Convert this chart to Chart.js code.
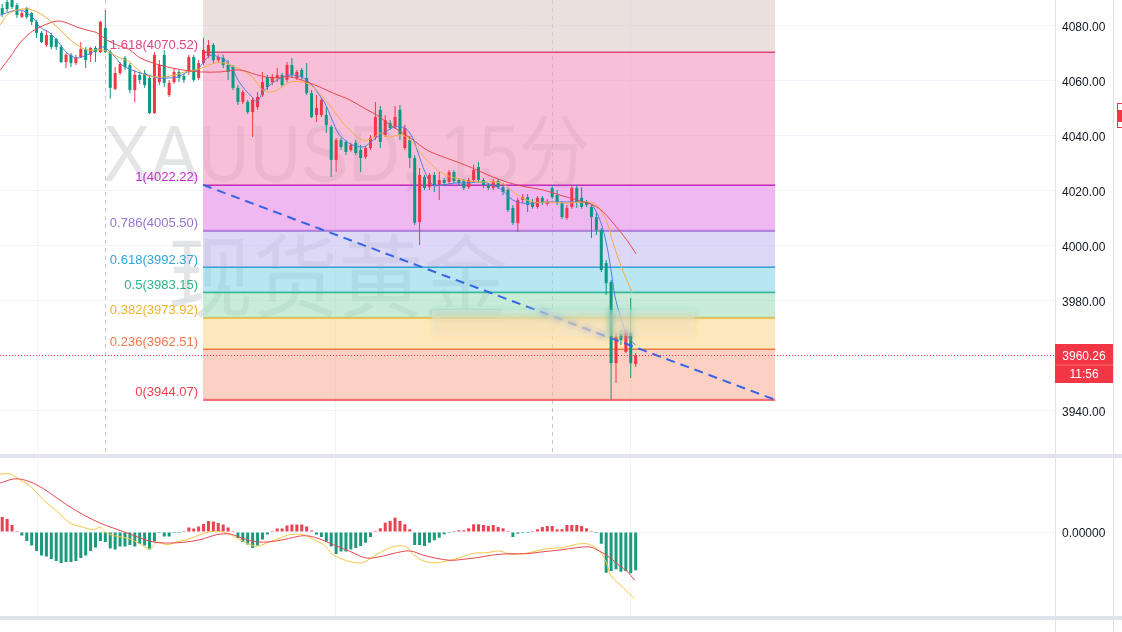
<!DOCTYPE html>
<html lang="zh">
<head>
<meta charset="utf-8">
<title>XAUUSD 15分</title>
<script src="https://cdn.jsdelivr.net/npm/chart.js@4.4.1/dist/chart.umd.min.js"></script>
<style>
  html, body { margin: 0; padding: 0; background: #ffffff; }
  #grafico { display: block; }
</style>
</head>
<body>
<canvas id="grafico" width="1122" height="632"></canvas>
<script>
// Velas de 15 minutos (índice = posição da vela no gráfico)
const opens = [4086.5, 4088.7, 4089.5, 4087.6, 4083.3, 4086.5, 4084.7, 4081.5, 4077.5, 4073.1,
  4076.7, 4075.3, 4072.4, 4066.9, 4069.5, 4066.5, 4068.7, 4071.6, 4069.5, 4072.0,
  4070.5, 4079.3, 4070.5, 4057.1, 4062.9, 4068.4, 4065.8, 4056.7, 4062.2, 4062.9,
  4061.1, 4048.4, 4059.6, 4069.5, 4054.9, 4059.6, 4063.3, 4061.8, 4063.3, 4068.7,
  4061.1, 4066.5, 4069.1, 4073.1, 4067.6, 4068.4, 4065.8, 4065.1, 4057.5, 4052.4,
  4052.4, 4048.7, 4050.5, 4054.9, 4061.5, 4059.6, 4061.1, 4062.2, 4060.4, 4065.8,
  4061.1, 4064.0, 4061.1, 4055.6, 4047.6, 4047.6, 4047.6, 4043.3, 4031.3, 4038.5,
  4037.8, 4034.9, 4037.5, 4034.9, 4032.4, 4035.6, 4039.6, 4049.5, 4040.4, 4044.7,
  4043.3, 4049.5, 4035.6, 4038.5, 4032.0, 4008.7, 4025.1, 4021.4, 4025.8, 4022.2,
  4024.0, 4023.3, 4026.9, 4024.0, 4023.6, 4021.4, 4024.0, 4028.7, 4024.0, 4022.2,
  4021.1, 4023.6, 4021.4, 4020.4, 4013.8, 4008.4, 4016.7, 4017.8, 4016.0, 4014.2,
  4017.5, 4015.3, 4021.1, 4018.5, 4015.6, 4010.2, 4014.2, 4021.1, 4017.5, 4016.0,
  4014.2, 4010.5, 4005.8, 3993.8, 3986.9, 3957.4, 3968.0, 3961.5, 3968.4, 3957.1];
const highs = [4088.0, 4089.5, 4090.5, 4088.4, 4085.5, 4086.9, 4085.1, 4082.2, 4078.2, 4078.5,
  4077.5, 4075.6, 4073.1, 4070.2, 4070.2, 4069.5, 4074.2, 4072.4, 4072.4, 4072.7,
  4081.8, 4085.8, 4071.3, 4065.1, 4066.9, 4069.1, 4066.5, 4064.0, 4063.3, 4064.0,
  4061.8, 4070.5, 4067.6, 4071.3, 4060.4, 4064.7, 4064.0, 4062.5, 4069.5, 4069.5,
  4067.6, 4075.6, 4074.9, 4073.8, 4069.5, 4069.5, 4067.6, 4065.8, 4058.5, 4056.7,
  4053.1, 4054.2, 4056.0, 4063.3, 4062.2, 4062.5, 4064.7, 4062.9, 4066.9, 4068.4,
  4064.0, 4064.7, 4066.5, 4056.7, 4054.9, 4053.8, 4050.5, 4044.0, 4039.3, 4039.3,
  4038.5, 4037.5, 4038.5, 4036.7, 4036.4, 4040.4, 4052.4, 4050.9, 4047.6, 4045.8,
  4050.9, 4051.3, 4044.0, 4040.0, 4033.1, 4028.4, 4025.8, 4026.5, 4026.9, 4026.9,
  4024.7, 4027.6, 4027.6, 4024.7, 4024.4, 4024.7, 4029.5, 4030.5, 4024.7, 4022.9,
  4024.4, 4024.4, 4022.9, 4021.1, 4014.9, 4017.5, 4018.9, 4018.9, 4017.1, 4018.2,
  4018.2, 4017.1, 4022.2, 4020.4, 4016.4, 4014.9, 4022.2, 4022.2, 4021.4, 4016.7,
  4014.9, 4012.0, 4006.5, 3994.9, 3987.6, 3968.4, 3969.5, 3969.5, 3981.1, 3961.1];
const lows = [4083.3, 4085.1, 4086.2, 4082.9, 4082.9, 4082.5, 4080.4, 4075.6, 4073.8, 4072.4,
  4071.6, 4071.3, 4066.5, 4064.7, 4065.1, 4065.8, 4068.4, 4064.7, 4066.9, 4066.9,
  4070.2, 4070.2, 4053.5, 4056.7, 4062.2, 4064.0, 4055.6, 4052.4, 4058.9, 4057.5,
  4048.0, 4048.0, 4058.5, 4057.8, 4054.2, 4058.9, 4059.6, 4059.3, 4062.2, 4059.6,
  4060.4, 4065.8, 4068.4, 4066.5, 4066.9, 4064.7, 4060.4, 4056.7, 4051.3, 4051.6,
  4048.0, 4039.6, 4049.5, 4054.2, 4056.7, 4058.5, 4059.6, 4057.8, 4059.6, 4061.1,
  4060.4, 4060.4, 4054.9, 4046.5, 4045.1, 4046.9, 4041.1, 4025.1, 4026.9, 4034.9,
  4033.1, 4034.2, 4033.1, 4026.9, 4031.6, 4034.9, 4038.5, 4035.6, 4039.6, 4042.2,
  4042.5, 4038.5, 4034.9, 4028.4, 4007.6, 4000.4, 4020.4, 4020.4, 4019.6, 4016.7,
  4021.8, 4022.5, 4022.9, 4021.8, 4020.4, 4020.7, 4023.3, 4022.9, 4021.1, 4020.4,
  4020.4, 4020.7, 4018.5, 4012.4, 4007.6, 4005.1, 4015.6, 4012.4, 4013.5, 4013.5,
  4014.9, 4014.6, 4017.1, 4014.9, 4009.8, 4009.5, 4013.5, 4013.8, 4013.5, 4014.2,
  4002.9, 4004.0, 3990.5, 3982.2, 3944.07, 3950.2, 3964.0, 3961.1, 3952.0, 3956.0];
const closes = [4084.4, 4086.2, 4086.9, 4084.0, 4084.7, 4083.3, 4081.5, 4077.5, 4074.2, 4076.7,
  4072.4, 4072.4, 4066.9, 4069.5, 4066.5, 4068.7, 4071.6, 4067.6, 4072.0, 4070.5,
  4081.5, 4070.5, 4057.5, 4062.9, 4066.2, 4065.1, 4056.7, 4062.2, 4060.4, 4058.5,
  4048.4, 4069.5, 4065.8, 4059.3, 4059.3, 4063.3, 4061.1, 4060.4, 4068.7, 4060.4,
  4066.5, 4071.3, 4073.1, 4067.6, 4068.7, 4065.8, 4063.3, 4057.5, 4052.4, 4056.0,
  4048.7, 4053.1, 4054.2, 4059.6, 4057.8, 4061.5, 4062.2, 4058.5, 4065.8, 4062.2,
  4063.3, 4061.5, 4055.6, 4046.9, 4050.2, 4053.1, 4044.0, 4031.3, 4038.5, 4036.0,
  4034.2, 4036.7, 4033.8, 4032.0, 4035.6, 4039.3, 4046.9, 4037.8, 4045.8, 4042.9,
  4046.9, 4040.4, 4042.9, 4032.0, 4008.4, 4025.8, 4021.1, 4025.8, 4022.2, 4024.0,
  4022.9, 4026.9, 4023.6, 4022.9, 4021.1, 4024.0, 4027.6, 4024.0, 4022.2, 4021.1,
  4023.6, 4021.4, 4019.6, 4013.1, 4008.4, 4016.7, 4017.8, 4014.9, 4014.2, 4017.5,
  4015.6, 4016.0, 4017.8, 4015.6, 4010.5, 4013.8, 4021.1, 4016.0, 4014.2, 4014.9,
  4010.5, 4005.8, 3991.3, 3986.5, 3957.4, 3966.9, 3965.8, 3968.4, 3957.4, 3960.26];

// Médias móveis (índice da vela, preço)
const maFastIdx = [-0.4, 3.6, 6.3, 7.7, 9.7, 11.4, 13.2, 15.2, 17.3, 19.3, 20.5, 22.0, 23.0, 24.0, 25.0,
  26.4, 28.1, 29.7, 31.7, 33.8, 35.8, 37.8, 39.7, 41.3, 42.7, 44.0, 45.4, 46.8, 48.0, 49.5,
  50.9, 51.9, 53.1, 54.5, 56.0, 57.2, 59.2, 61.3, 63.1, 64.3, 65.7, 67.2, 68.4, 69.8, 71.4,
  73.5, 74.9, 76.3, 78.0, 80.0, 82.0, 83.5, 84.7, 86.1, 87.7, 89.6, 92.2, 94.9, 97.7, 99.8,
  101.8, 104.0, 106.1, 108.1, 110.1, 112.2, 115.0, 117.7, 119.7, 121.1, 122.2, 123.2, 124.2, 124.8, 125.8,
  126.8, 127.9, 129.0];
const maFastVal = [4084.0, 4085.8, 4082.9, 4079.6, 4077.5, 4074.2, 4070.2, 4068.4, 4069.5, 4071.3, 4072.4, 4070.5, 4068.7, 4066.5, 4065.1,
  4064.0, 4062.9, 4062.2, 4061.1, 4061.1, 4061.5, 4063.3, 4064.0, 4067.6, 4069.5, 4068.7, 4067.6, 4064.7, 4060.4, 4056.7,
  4054.2, 4052.4, 4056.0, 4058.5, 4060.4, 4061.5, 4062.2, 4061.1, 4058.5, 4055.6, 4052.0, 4045.8, 4041.1, 4038.5, 4036.7,
  4036.0, 4037.5, 4039.6, 4041.5, 4043.3, 4042.9, 4039.6, 4033.8, 4026.9, 4022.2, 4022.2, 4022.9, 4022.9, 4023.3, 4022.2,
  4020.4, 4016.7, 4015.6, 4015.6, 4016.0, 4016.0, 4016.0, 4016.0, 4015.6, 4012.0, 4006.9, 3999.6, 3988.7, 3981.5, 3974.9,
  3969.5, 3965.8, 3964.0];
const maMidIdx = [-0.4, 1.0, 3.0, 5.1, 7.1, 9.1, 11.2, 13.2, 15.2, 17.3, 19.3, 20.5, 22.0, 24.0, 26.0,
  27.0, 29.1, 31.1, 33.2, 35.2, 37.2, 39.3, 41.3, 43.3, 45.4, 47.4, 49.5, 50.9, 51.9, 53.1,
  54.5, 56.0, 58.6, 61.3, 63.3, 65.3, 67.4, 69.4, 71.4, 73.5, 75.5, 76.9, 78.6, 81.4, 83.5,
  85.5, 87.5, 89.6, 92.2, 94.9, 97.7, 100.4, 102.4, 104.9, 108.1, 111.6, 115.0, 118.3, 120.3, 121.8,
  123.2, 124.4, 125.8, 127.2, 128.3];
const maMidVal = [4080.4, 4084.0, 4085.8, 4086.2, 4085.1, 4082.9, 4079.6, 4076.0, 4073.1, 4071.3, 4071.3, 4071.3, 4070.2, 4068.4, 4066.9,
  4065.1, 4062.2, 4061.5, 4061.5, 4062.2, 4063.3, 4064.0, 4065.1, 4066.5, 4066.5, 4065.1, 4063.3, 4061.5, 4059.3, 4056.7,
  4056.0, 4056.7, 4059.6, 4059.6, 4057.8, 4054.2, 4049.5, 4044.7, 4041.1, 4038.5, 4039.3, 4041.1, 4039.6, 4040.4, 4037.8,
  4033.1, 4029.5, 4026.5, 4024.7, 4023.6, 4023.3, 4023.3, 4022.2, 4018.5, 4016.0, 4016.0, 4015.6, 4016.0, 4015.6, 4013.1,
  4008.4, 4001.1, 3993.8, 3987.6, 3982.9];
const maSlowIdx = [-0.4, 1.6, 3.6, 5.7, 7.7, 9.7, 11.4, 13.2, 15.2, 17.3, 19.3, 21.3, 23.4, 26.0, 28.1,
  32.1, 36.8, 40.3, 44.4, 48.4, 51.9, 55.2, 58.6, 62.1, 64.7, 67.4, 70.8, 74.3, 76.3, 79.6,
  83.1, 86.5, 89.8, 93.2, 96.7, 99.9, 103.4, 106.9, 110.1, 113.6, 117.1, 120.3, 122.4, 124.4, 127.2,
  129.1];
const maSlowVal = [4064.0, 4068.7, 4073.8, 4077.5, 4079.6, 4081.1, 4081.8, 4081.1, 4079.6, 4078.5, 4077.5, 4074.9, 4073.1, 4071.3, 4068.4,
  4065.8, 4064.0, 4063.3, 4063.3, 4064.0, 4062.2, 4061.1, 4061.5, 4059.6, 4057.8, 4055.6, 4053.1, 4049.5, 4047.6, 4043.3,
  4039.3, 4034.9, 4032.4, 4030.2, 4027.6, 4025.1, 4022.9, 4021.4, 4020.4, 4018.5, 4016.7, 4014.9, 4012.4, 4008.4, 4002.2,
  3997.1];

// MACD: histograma por vela, linhas MACD e sinal (índice, valor)
const macdHist = [1.5, 1.3, 0.7, 0.05, -0.35, -0.9, -1.35, -1.9, -2.35, -2.45,
  -2.7, -2.9, -3.1, -3.0, -3.0, -2.9, -2.6, -2.35, -1.9, -1.55,
  -0.9, -1.0, -1.65, -1.75, -1.45, -1.45, -1.3, -1.45, -1.2, -1.35,
  -1.75, -0.95, -0.1, -0.45, -0.45, -0.05, -0.05, 0.05, 0.45, 0.35,
  0.55, 0.8, 1.1, 1.05, 0.9, 0.75, 0.45, 0.05, -0.6, -1.0,
  -1.25, -1.6, -1.35, -0.75, -0.25, 0.05, 0.35, 0.35, 0.65, 0.75,
  0.75, 0.75, 0.55, 0.15, -0.25, -0.5, -0.95, -1.45, -2.2, -1.95,
  -1.95, -1.75, -1.6, -1.4, -1.07, -0.5, 0.03, 0.37, 0.93, 1.1,
  1.43, 1.1, 0.77, 0.27, -1.3, -1.3, -1.4, -1.07, -0.83, -0.57,
  -0.23, -0.03, 0.03, 0.17, 0.17, 0.37, 0.77, 0.77, 0.7, 0.6,
  0.7, 0.5, 0.37, 0.03, -0.5, -0.17, -0.03, -0.03, 0.03, 0.27,
  0.5, 0.6, 0.6, 0.27, 0.27, 0.7, 0.7, 0.7, 0.6, 0.37,
  0.03, -0.03, -1.17, -4.07, -3.9, -3.73, -3.97, -3.9, -4.13, -3.83];
const macdIdx = [-0.4, 1.6, 3.6, 5.7, 8.4, 11.1, 13.8, 15.8, 18.6, 19.9, 21.3, 23.3, 25.4, 27.4, 30.1,
  31.5, 33.5, 35.5, 37.6, 40.3, 43.0, 45.7, 47.8, 49.8, 51.8, 53.9, 56.6, 58.6, 61.3, 63.4,
  65.4, 67.4, 70.2, 72.9, 74.2, 76.3, 78.3, 80.3, 82.4, 83.7, 85.8, 88.5, 90.5, 93.2, 95.9,
  98.7, 101.3, 103.4, 106.1, 108.8, 111.5, 114.2, 116.9, 118.9, 120.3, 121.6, 122.9, 124.0, 126.5, 127.8,
  128.8];
const macdVal = [5.8, 5.8, 5.2, 4.6, 3.2, 2.1, 0.9, 0.57, 0.23, 0.47, -0.1, -0.43, -0.6, -1.0, -1.67,
  -1.0, -1.27, -1.0, -0.77, -0.27, 0.07, -0.1, -0.6, -1.1, -1.43, -1.1, -0.6, -0.27, -0.27, -0.77,
  -1.27, -2.27, -2.87, -3.1, -2.9, -2.23, -1.73, -1.4, -1.5, -2.23, -2.9, -3.07, -2.9, -2.57, -2.13,
  -2.07, -1.9, -2.23, -2.17, -1.9, -1.63, -1.57, -1.23, -1.17, -1.4, -1.9, -2.9, -4.4, -5.57, -6.23,
  -6.63];
const signalIdx = [-0.4, 2.3, 4.3, 7.0, 9.7, 13.1, 16.5, 19.9, 22.6, 25.4, 28.1, 30.8, 33.5, 36.9, 40.3,
  43.7, 46.4, 48.4, 51.1, 53.9, 57.3, 61.3, 64.1, 67.4, 70.8, 74.2, 77.6, 80.3, 83.1, 85.8,
  88.5, 91.2, 93.9, 96.6, 100.0, 103.4, 106.8, 110.2, 113.6, 117.0, 119.7, 121.6, 123.8, 125.8, 127.2,
  128.8];
const signalVal = [4.9, 5.3, 5.23, 4.73, 3.9, 2.73, 1.73, 0.9, 0.4, -0.1, -0.6, -1.0, -1.1, -1.03, -0.77,
  -0.27, -0.2, -0.53, -0.93, -1.0, -0.77, -0.37, -0.6, -1.27, -1.93, -2.6, -2.4, -2.07, -1.9, -2.33,
  -2.63, -2.83, -2.73, -2.57, -2.3, -2.17, -2.17, -1.97, -1.8, -1.57, -1.5, -1.9, -2.57, -3.4, -3.9,
  -4.83];

// Retração de Fibonacci
const fibRatios = [2.618, 1.618, 1, 0.786, 0.618, 0.5, 0.382, 0.236, 0];
const fibPrices = [4148.66, 4070.52, 4022.22, 4005.50, 3992.37, 3983.15, 3973.92, 3962.51, 3944.07];
const fibStart = 40.9;
const fibEnd = 157.4;

const priceTicks = [3940, 3960, 3980, 4000, 4020, 4040, 4060, 4080];
const macdTicks = [0];
const timeGrid = [7.1, 67.8, 127.9];
const sessionBreaks = [20.9, 112];
const countdown = '11:56';
const watermarkLines = ['XAUUSD, 15分', '现货黄金'];

const UP = '#f23645';
const DOWN = '#089981';
const GRID = '#f0f3fa';
const FONT = '"Liberation Sans", Arial, sans-serif';
const fibLineColors = ['#b09a96', '#e0457f', '#c22fc6', '#9474d2', '#2ea6d6', '#2db487', '#f0b22a', '#f0784a', '#ef3f4e'];
const fibFillColors = ['rgba(223,203,200,0.6)', 'rgba(242,150,190,0.6)', 'rgba(230,137,230,0.6)', 'rgba(198,190,238,0.6)',
  'rgba(137,213,233,0.6)', 'rgba(163,223,190,0.6)', 'rgba(252,217,145,0.6)', 'rgba(252,177,157,0.6)', 'rgba(0,0,0,0)'];

const candleColors = closes.map((c, i) => (c >= opens[i] ? UP : DOWN));
const histColors = macdHist.map(v => (v >= 0 ? '#e8414f' : '#1b9a7c'));
const lastPrice = closes[closes.length - 1];

function pairs(xs, ys) {
  return xs.map((x, k) => ({ x, y: ys[k] }));
}

function fitText(ctx, text, x, y, width, font) {
  ctx.font = font;
  const w = ctx.measureText(text).width;
  ctx.save();
  ctx.translate(x, y);
  ctx.scale(width / w, 1);
  ctx.fillText(text, 0, 0);
  ctx.restore();
}

// sem margem extra para os rótulos nas pontas do eixo
function fixedAxis(s) {
  s.width = 58;
  s.paddingTop = 0;
  s.paddingBottom = 0;
}

// Fundo: marca d'água e quebras de sessão
const backdrop = {
  id: 'backdrop',
  beforeDatasetsDraw(chart) {
    const { ctx, scales } = chart;
    const y = scales.y;
    ctx.save();
    ctx.strokeStyle = 'rgba(150,153,165,0.55)';
    ctx.lineWidth = 1;
    ctx.setLineDash([4, 4]);
    sessionBreaks.forEach(v => {
      const px = Math.round(scales.x.getPixelForValue(v)) + 0.5;
      ctx.beginPath();
      ctx.moveTo(px, y.top);
      ctx.lineTo(px, y.bottom);
      ctx.stroke();
    });
    ctx.setLineDash([]);
    ctx.fillStyle = 'rgba(120,123,134,0.2)';
    ctx.textAlign = 'left';
    ctx.textBaseline = 'alphabetic';
    fitText(ctx, watermarkLines[0], 103, 181, 487, '80px "Liberation Sans", "Noto Sans CJK SC", sans-serif');
    ctx.textBaseline = 'middle';
    fitText(ctx, watermarkLines[1], 168, 276, 340, '90px "Noto Sans CJK SC", sans-serif');
    ctx.restore();
  },
  afterDatasetsDraw(chart) {
    const { ctx, scales } = chart;
    const y = scales.y;
    // zona desfocada da imagem original
    ctx.save();
    ctx.filter = 'blur(3px)';
    ctx.drawImage(chart.canvas, 432, 309, 264, 28, 432, 309, 264, 28);
    ctx.filter = 'none';
    ctx.fillStyle = 'rgba(235,236,240,0.3)';
    ctx.fillRect(432, 310, 262, 26);
    ctx.restore();

    // rótulos de Fibonacci
    ctx.save();
    ctx.font = '13px ' + FONT;
    ctx.textAlign = 'right';
    ctx.textBaseline = 'middle';
    const x0 = scales.x.getPixelForValue(fibStart);
    fibRatios.forEach((r, k) => {
      if (fibPrices[k] > y.max) return;
      const py = y.getPixelForValue(fibPrices[k]);
      ctx.fillStyle = fibLineColors[k];
      ctx.fillText(r + '(' + fibPrices[k].toFixed(2) + ')', x0 - 5, py - 7);
    });
    ctx.restore();
  },
  afterDraw(chart) {
    const { ctx, chartArea, scales } = chart;
    const y = scales.y;
    const m = scales.macd;
    const W = chart.width;
    const H = chart.height;
    ctx.save();
    // separadores dos painéis
    ctx.fillStyle = '#e0e3eb';
    ctx.fillRect(0, y.bottom - 3, W, 4);
    ctx.fillRect(0, m.bottom - 1, W, 4);
    ctx.fillRect(chartArea.right, 0, 1, H);
    ctx.fillRect(y.right, 0, 1, H);

    // linha do último preço
    const py = Math.round(y.getPixelForValue(lastPrice)) + 0.5;
    ctx.strokeStyle = UP;
    ctx.lineWidth = 1;
    ctx.setLineDash([1, 2]);
    ctx.beginPath();
    ctx.moveTo(chartArea.left, py);
    ctx.lineTo(chartArea.right, py);
    ctx.stroke();
    ctx.setLineDash([]);

    ctx.fillStyle = UP;
    ctx.fillRect(y.left, py - 11.5, y.width, 39);
    ctx.fillStyle = 'rgba(255,255,255,0.25)';
    ctx.fillRect(y.left, py + 9, y.width, 1);
    ctx.fillStyle = '#ffffff';
    ctx.font = '12px ' + FONT;
    ctx.textAlign = 'center';
    ctx.textBaseline = 'middle';
    ctx.fillText(lastPrice.toFixed(2), y.left + y.width / 2, py + 1);
    ctx.fillText(countdown, y.left + y.width / 2, py + 19);

    // ícone na faixa direita
    ctx.strokeStyle = UP;
    ctx.strokeRect(y.right + 4.5, 103.5, 8, 24);
    ctx.fillStyle = UP;
    ctx.fillRect(y.right + 4, 110, 9, 12);
    ctx.restore();
  }
};

const fibDatasets = fibPrices.map((p, k) => ({
  type: 'line',
  label: 'fib ' + fibRatios[k],
  data: [{ x: fibStart, y: p }, { x: fibEnd, y: p }],
  borderColor: fibLineColors[k],
  backgroundColor: fibFillColors[k],
  borderWidth: 2,
  pointRadius: 0,
  fill: k < fibPrices.length - 1 ? '+1' : false,
  yAxisID: 'y',
  order: 10
}));

const lineOpts = { type: 'line', pointRadius: 0, borderWidth: 1, tension: 0.35, fill: false };

const datasets = [
  ...fibDatasets,
  {
    type: 'bar', label: 'pavio',
    data: closes.map((c, i) => ({ x: i, y: [lows[i], highs[i]] })),
    backgroundColor: candleColors, grouped: false, maxBarThickness: 1, yAxisID: 'y', order: 4
  },
  {
    type: 'bar', label: 'corpo',
    data: closes.map((c, i) => ({ x: i, y: [opens[i], c] })),
    backgroundColor: candleColors, grouped: false, maxBarThickness: 3, minBarLength: 1, yAxisID: 'y', order: 3
  },
  { ...lineOpts, label: 'MA lenta', data: pairs(maSlowIdx, maSlowVal), borderColor: '#e5484f', yAxisID: 'y', order: 2 },
  { ...lineOpts, label: 'MA média', data: pairs(maMidIdx, maMidVal), borderColor: '#f4ad42', yAxisID: 'y', order: 2 },
  { ...lineOpts, label: 'MA rápida', data: pairs(maFastIdx, maFastVal), borderColor: '#4a7fe6', yAxisID: 'y', order: 2 },
  {
    type: 'line', label: 'tendência',
    data: [{ x: fibStart, y: fibPrices[2] }, { x: fibEnd, y: fibPrices[8] }],
    borderColor: '#3563e6', borderWidth: 2, borderDash: [9, 6], pointRadius: 0, fill: false, yAxisID: 'y', order: 0
  },
  {
    type: 'bar', label: 'histograma',
    data: macdHist.map((v, i) => ({ x: i, y: v })),
    backgroundColor: histColors, grouped: false, maxBarThickness: 3, minBarLength: 1, yAxisID: 'macd', order: 4
  },
  { ...lineOpts, label: 'sinal', data: pairs(signalIdx, signalVal), borderColor: '#e5484f', yAxisID: 'macd', order: 1 },
  { ...lineOpts, label: 'MACD', data: pairs(macdIdx, macdVal), borderColor: '#f5c542', yAxisID: 'macd', order: 1 }
];

Chart.defaults.font.family = FONT;

new Chart(document.getElementById('grafico'), {
  type: 'bar',
  data: { datasets },
  options: {
    responsive: false,
    animation: false,
    events: [],
    layout: { padding: { left: 0, right: 9, top: 0, bottom: 15 } },
    plugins: { legend: { display: false }, tooltip: { enabled: false } },
    scales: {
      x: {
        type: 'linear',
        min: -0.45,
        max: 214.4,
        offset: false,
        ticks: { display: false },
        grid: { color: GRID, drawTicks: false, offset: false },
        border: { display: false },
        afterBuildTicks: s => { s.ticks = timeGrid.map(v => ({ value: v })); },
        afterFit: s => { s.paddingLeft = 0; s.paddingRight = 0; }
      },
      y: {
        type: 'linear',
        position: 'right',
        stack: 'paineis',
        stackWeight: 457,
        min: 3923.27,
        max: 4089.45,
        beginAtZero: false,
        grid: { color: GRID, drawTicks: false },
        border: { display: false },
        ticks: {
          color: '#131722',
          font: { size: 12 },
          padding: 7,
          labelOffset: 2,
          callback: v => (Math.abs(v - lastPrice) < 6 ? '' : Number(v).toFixed(2))
        },
        afterBuildTicks: s => { s.ticks = priceTicks.map(v => ({ value: v })); },
        afterFit: fixedAxis
      },
      macd: {
        type: 'linear',
        axis: 'y',
        position: 'right',
        stack: 'paineis',
        stackWeight: 160,
        min: -8.5,
        max: 7.5,
        beginAtZero: false,
        grid: { color: GRID, drawTicks: false },
        border: { display: false },
        ticks: {
          color: '#131722',
          font: { size: 12 },
          padding: 7,
          labelOffset: 2,
          callback: v => Number(v).toFixed(5)
        },
        afterBuildTicks: s => { s.ticks = macdTicks.map(v => ({ value: v })); },
        afterFit: fixedAxis
      }
    }
  },
  plugins: [backdrop]
});
</script>
</body>
</html>
